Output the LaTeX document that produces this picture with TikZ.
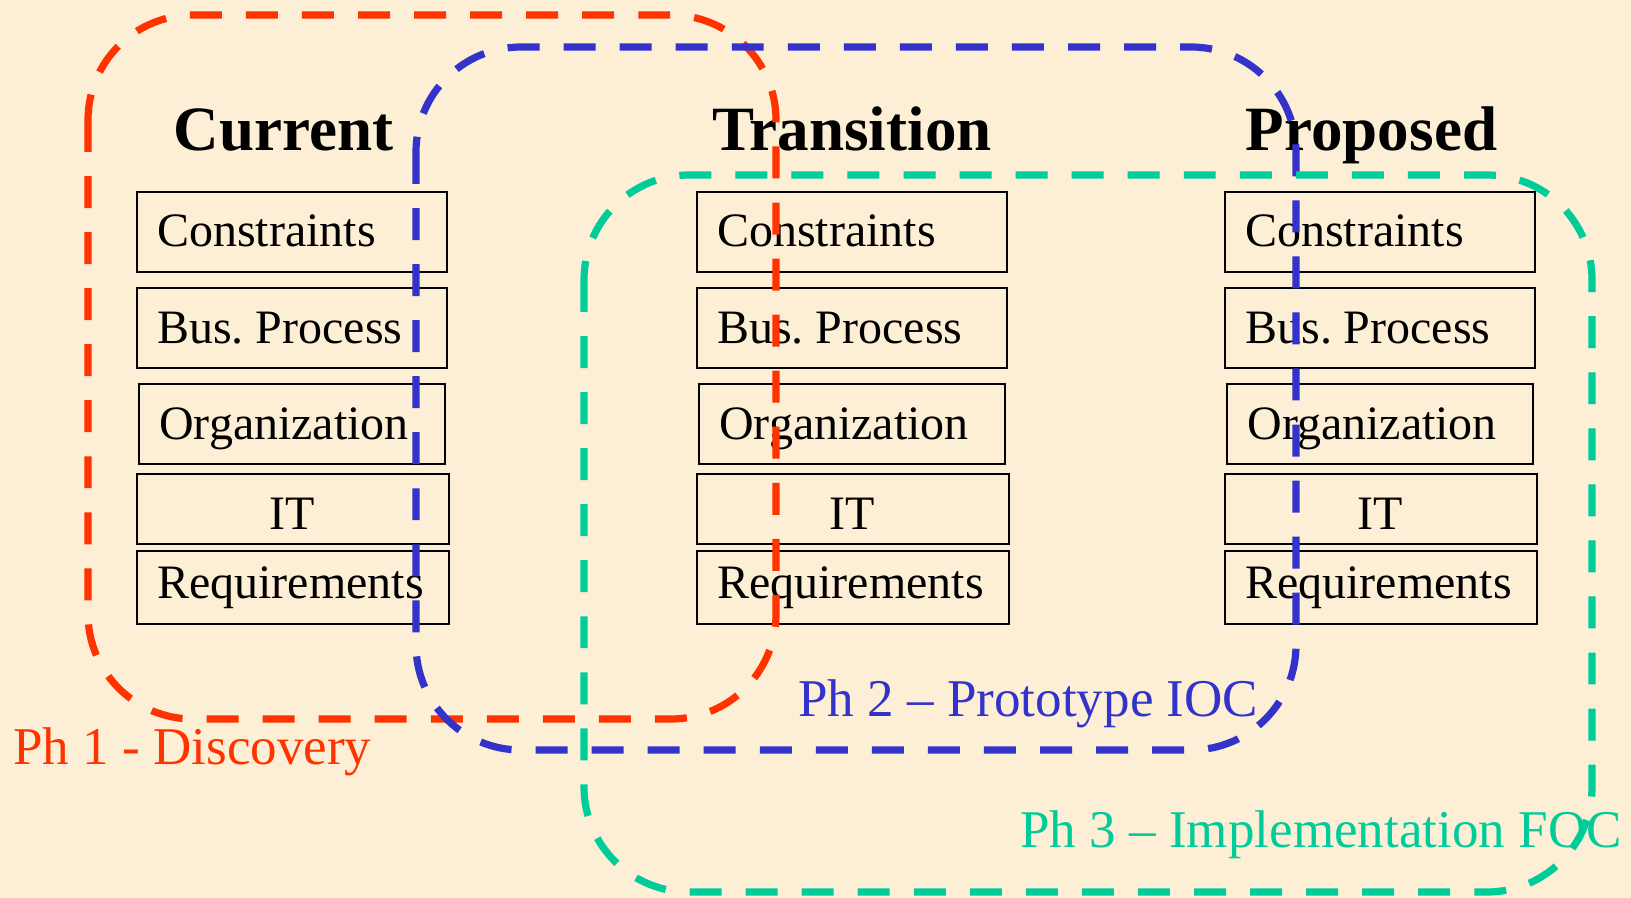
\documentclass[tikz,border=0pt]{standalone}
\usepackage{fontspec}
\setmainfont{Liberation Serif}
\frenchspacing
\definecolor{bg}{HTML}{FCEFD6}
\definecolor{phred}{HTML}{FF3300}
\definecolor{phblue}{HTML}{3333CC}
\definecolor{phgreen}{HTML}{00CC99}
\begin{document}
\begin{tikzpicture}[x=0.02cm,y=-0.02cm,
  box/.style={draw=black,line width=1.1pt,inner sep=0pt,anchor=north west},
  boxtext/.style={inner sep=0pt,anchor=base west,font=\fontsize{27.3pt}{32pt}\selectfont},
  ittext/.style={inner sep=0pt,anchor=base,font=\fontsize{27.3pt}{32pt}\selectfont},
  coltitle/.style={inner sep=0pt,anchor=base,font=\fontsize{35.9pt}{42pt}\selectfont\bfseries},
  phlabel/.style={inner sep=0pt,anchor=base west,font=\fontsize{30.2pt}{36pt}\selectfont},
  phase/.style={line width=4.1pt,dash pattern=on 18.2pt off 13.7pt,rounded corners=2.1cm}]
\fill[bg] (0,0) rectangle (1631,898);
\useasboundingbox (0,0) rectangle (1631,898);

% column titles
\node[coltitle] (tcur) at (283.5,151) {Current};
\node[coltitle] (ttra) at (852,151) {Transition};
\node[coltitle] (tpro) at (1371.5,151) {Proposed};

% boxes, three columns
\foreach \x/\n in {136/cur,696/tra,1224/pro}{
  \node[box,minimum width=310*0.02cm,minimum height=80*0.02cm] (con\n) at (\x,191) {};
  \node[box,minimum width=310*0.02cm,minimum height=80*0.02cm] (bus\n) at (\x,287) {};
  \node[box,minimum width=306*0.02cm,minimum height=80*0.02cm] (org\n) at (\x+2,383) {};
  \node[box,minimum width=312*0.02cm,minimum height=70*0.02cm] (it\n) at (\x,473) {};
  \node[box,minimum width=312*0.02cm,minimum height=73*0.02cm] (req\n) at (\x,550) {};
  \node[boxtext] (lcon\n) at (\x+21,247) {Constraints};
  \node[boxtext] (lbus\n) at (\x+21,343) {Bus.\ Process};
  \node[boxtext] (lorg\n) at (\x+23,439) {Organization};
  \node[ittext] (lit\n) at (\x+156,529) {IT};
  \node[boxtext] (lreq\n) at (\x+21,598) {Requirements};
}

% phase outlines
\draw[phase,phred] (88,15) rectangle (776,719);
\draw[phase,phblue] (416,47) rectangle (1296,750);
\draw[phase,phgreen] (584,175) rectangle (1592,892);

% phase labels
\node[phlabel,text=phred] (ph1) at (13,764) {Ph 1 - Discovery};
\node[phlabel,text=phblue] (ph2) at (798,716) {Ph 2 – Prototype IOC};
\node[phlabel,text=phgreen] (ph3) at (1020,847) {Ph 3 – Implementation FOC};
\end{tikzpicture}
\end{document}
